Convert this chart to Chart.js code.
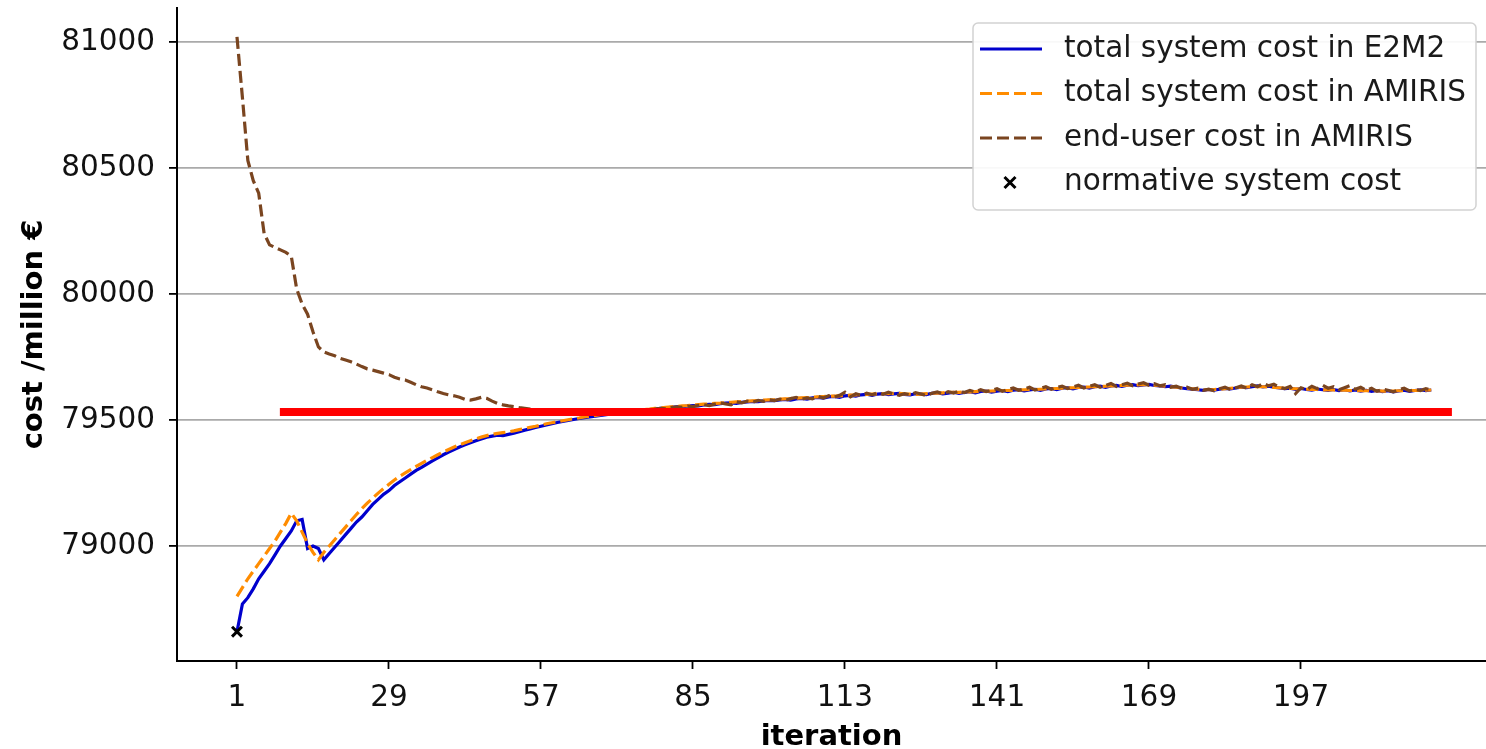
<!DOCTYPE html>
<html>
<head>
<meta charset="utf-8">
<script src="https://cdn.jsdelivr.net/npm/chart.js@4.4.0/dist/chart.umd.min.js"></script>
<style>
  html, body { margin: 0; padding: 0; background: #fff; overflow: hidden; }
  #wrap { width: 1486px; height: 749px; position: relative; }
  #costChart { display: block; }
</style>
</head>
<body>
<div id="wrap"><canvas id="costChart" width="1486" height="749"></canvas></div>
<script>
// values (million €)
const e2m2Cost = [
  78660, 78770, 78795, 78830, 78870, 78900, 78930, 78965, 79000, 79030,
  79060, 79100, 79105, 78990, 79000, 78990, 78945, 78970, 78995, 79020,
  79045, 79070, 79095, 79115, 79140, 79165, 79185, 79205, 79220, 79240,
  79255, 79270, 79285, 79300, 79312, 79325, 79338, 79350, 79362, 79373,
  79383, 79393, 79402, 79410, 79418, 79425, 79432, 79436, 79440, 79438,
  79443, 79448, 79454, 79460, 79465, 79470, 79475, 79480, 79485, 79490,
  79494, 79498, 79502, 79506, 79509, 79512, 79515, 79518, 79521, 79524,
  79527, 79529, 79532, 79534, 79537, 79539, 79541, 79543, 79546, 79548,
  79550, 79552, 79553, 79555, 79557, 79556, 79560, 79562, 79561, 79565,
  79567, 79568, 79566, 79570, 79572, 79574, 79573, 79576, 79578, 79577,
  79580, 79582, 79579, 79584, 79586, 79583, 79588, 79590, 79587, 79592,
  79594, 79590, 79596, 79598, 79595, 79600, 79602, 79598, 79603, 79605,
  79601, 79604, 79606, 79602, 79600, 79604, 79603, 79601, 79606, 79608,
  79604, 79607, 79610, 79606, 79609, 79612, 79608, 79613, 79615, 79611,
  79614, 79617, 79613, 79618, 79620, 79616, 79619, 79622, 79618, 79623,
  79625, 79621, 79626, 79628, 79624, 79629, 79631, 79627, 79632, 79634,
  79630, 79635, 79637, 79633, 79638, 79640, 79636, 79639, 79641, 79637,
  79635, 79632, 79634, 79630, 79627, 79624, 79622, 79620, 79618, 79621,
  79619, 79622, 79625, 79623, 79627, 79630, 79628, 79632, 79635, 79631,
  79634, 79630, 79627, 79624, 79626, 79622, 79625, 79621, 79619, 79623,
  79620, 79618, 79621, 79617, 79620, 79616, 79619, 79615, 79618, 79614,
  79617, 79613, 79616, 79612, 79615, 79618, 79614, 79617, 79620, 79617, 79619
];

const amirisCost = [
  78800, 78835, 78870, 78900, 78930, 78960, 78990, 79020, 79055, 79090,
  79130, 79100, 79055, 79010, 78975, 78945, 78975, 79000, 79025, 79050,
  79075, 79100, 79125, 79148, 79170, 79190, 79210, 79228, 79245, 79262,
  79277, 79290, 79303, 79316, 79328, 79340, 79351, 79362, 79373, 79383,
  79393, 79402, 79410, 79418, 79425, 79432, 79438, 79443, 79447, 79450,
  79453, 79457, 79462, 79466, 79471, 79475, 79480, 79485, 79489, 79493,
  79497, 79501, 79505, 79508, 79512, 79515, 79518, 79521, 79524, 79527,
  79529, 79532, 79534, 79537, 79539, 79541, 79543, 79546, 79548, 79550,
  79552, 79554, 79556, 79557, 79559, 79561, 79563, 79564, 79566, 79567,
  79569, 79570, 79572, 79573, 79575, 79576, 79577, 79579, 79580, 79581,
  79583, 79584, 79585, 79587, 79588, 79589, 79590, 79592, 79593, 79594,
  79595, 79596, 79597, 79599, 79600, 79601, 79602, 79603, 79604, 79605,
  79605, 79606, 79606, 79604, 79603, 79602, 79603, 79605, 79606, 79607,
  79608, 79609, 79610, 79610, 79611, 79612, 79613, 79614, 79614, 79615,
  79616, 79617, 79617, 79618, 79619, 79620, 79621, 79621, 79622, 79623,
  79624, 79625, 79626, 79627, 79628, 79629, 79630, 79631, 79632, 79633,
  79634, 79635, 79636, 79637, 79638, 79639, 79639, 79640, 79640, 79638,
  79636, 79634, 79632, 79630, 79628, 79626, 79624, 79622, 79621, 79620,
  79621, 79622, 79624, 79626, 79628, 79630, 79631, 79632, 79633, 79632,
  79631, 79629, 79628, 79626, 79625, 79624, 79623, 79622, 79621, 79621,
  79620, 79619, 79619, 79618, 79618, 79617, 79617, 79616, 79616, 79616,
  79616, 79615, 79615, 79615, 79616, 79616, 79617, 79617, 79618, 79618, 79619
];

const endUserCost = [
  81020, 80780, 80530, 80450, 80400, 80240, 80195, 80185, 80175, 80165,
  80150, 80020, 79960, 79920, 79850, 79790, 79770, 79762, 79755, 79745,
  79738, 79731, 79722, 79712, 79703, 79698, 79692, 79686, 79680, 79670,
  79663, 79659, 79650, 79640, 79632, 79627, 79620, 79612, 79605, 79600,
  79596, 79590, 79582, 79579, 79584, 79590, 79586, 79575, 79566, 79560,
  79556, 79553, 79549, 79546, 79543, 79540, 79537, 79534, 79532, 79530,
  79528, 79526, 79525, 79524, 79523, 79523, 79524, 79525, 79527, 79529,
  79531, 79533, 79535, 79536, 79538, 79540, 79538, 79543, 79546, 79544,
  79549, 79552, 79550, 79555, 79553, 79558, 79561, 79557, 79563, 79568,
  79564, 79560, 79572, 79568, 79575, 79571, 79578, 79574, 79580, 79577,
  79583, 79578, 79585, 79590, 79582, 79588, 79584, 79594, 79587, 79596,
  79590, 79598, 79610, 79592, 79604, 79598, 79606, 79600, 79608, 79602,
  79610, 79603, 79598, 79605, 79600, 79608, 79603, 79597, 79606, 79611,
  79604, 79612, 79607, 79615, 79609, 79617, 79611, 79620, 79613, 79618,
  79624, 79614, 79621, 79627, 79618, 79623, 79630, 79619, 79626, 79632,
  79622, 79629, 79634, 79625, 79631, 79638, 79627, 79634, 79640, 79630,
  79637, 79645, 79633, 79640, 79646, 79636, 79643, 79648, 79638, 79644,
  79636, 79640, 79630, 79634, 79626, 79630, 79622, 79626, 79618, 79622,
  79616, 79624, 79630, 79621, 79628, 79635, 79626, 79640, 79632, 79645,
  79636, 79642, 79630, 79625, 79633, 79605, 79628, 79620, 79634, 79624,
  79638, 79626, 79632, 79620, 79628, 79636, 79622, 79630, 79618, 79626,
  79614, 79622, 79618, 79612, 79620, 79626, 79615, 79622, 79617, 79624, 79620
];

const normativeIter = [1];
const normativeCost = [78660];

// red reference line drawn over the figure
const redLineIter = [8.9, 224.8];
const redLineCost = [79532, 79532];

const xTickLabels = [1, 29, 57, 85, 113, 141, 169, 197];
const yTickLabels = [79000, 79500, 80000, 80500, 81000];

const iterations = e2m2Cost.map((_, i) => i + 1);

const FONT = "'DejaVu Sans', sans-serif";

const legendBox = {
  id: 'legendBox',
  afterDraw(chart) {
    const { ctx, chartArea } = chart;
    const boxW = 503, boxH = 187;
    const x0 = chart.width - boxW - 10;
    const y0 = chartArea.top + 15;
    ctx.save();
    ctx.fillStyle = 'rgba(255,255,255,0.92)';
    ctx.strokeStyle = '#d2d2d2';
    ctx.lineWidth = 1.5;
    ctx.beginPath();
    ctx.roundRect(x0, y0, boxW, boxH, 5);
    ctx.fill();
    ctx.stroke();

    const entries = chart.data.datasets.filter(d => d.inLegend);
    ctx.font = '29.5px ' + FONT;
    ctx.textBaseline = 'middle';
    ctx.textAlign = 'left';
    entries.forEach((d, i) => {
      const cy = y0 + 26 + i * 44.5;
      if (d.showLine === false) {
        const mx = x0 + 37, s = 5.5;
        ctx.strokeStyle = '#000';
        ctx.lineWidth = 3;
        ctx.setLineDash([]);
        ctx.beginPath();
        ctx.moveTo(mx - s, cy - s); ctx.lineTo(mx + s, cy + s);
        ctx.moveTo(mx - s, cy + s); ctx.lineTo(mx + s, cy - s);
        ctx.stroke();
      } else {
        ctx.strokeStyle = d.borderColor;
        ctx.lineWidth = d.borderWidth;
        ctx.setLineDash(d.borderDash || []);
        ctx.beginPath();
        ctx.moveTo(x0 + 7, cy);
        ctx.lineTo(x0 + 69, cy);
        ctx.stroke();
      }
      ctx.setLineDash([]);
      ctx.fillStyle = '#1a1a1a';
      ctx.fillText(d.label, x0 + 91, cy);
    });
    ctx.restore();
  }
};

new Chart(document.getElementById('costChart'), {
  type: 'line',
  data: {
    labels: iterations,
    datasets: [
      {
        label: 'total system cost in E2M2',
        data: e2m2Cost,
        borderColor: '#0000cd',
        borderWidth: 3.2,
        pointRadius: 0,
        tension: 0,
        order: 4,
        inLegend: true
      },
      {
        label: 'total system cost in AMIRIS',
        data: amirisCost,
        borderColor: '#ff8c00',
        borderWidth: 3.2,
        borderDash: [12, 5],
        pointRadius: 0,
        tension: 0,
        order: 3,
        inLegend: true
      },
      {
        label: 'end-user cost in AMIRIS',
        data: endUserCost,
        borderColor: '#7a4520',
        borderWidth: 3.2,
        borderDash: [12, 5],
        pointRadius: 0,
        tension: 0,
        order: 2,
        inLegend: true
      },
      {
        label: 'normative system cost',
        data: normativeIter.map((x, i) => ({ x: x, y: normativeCost[i] })),
        showLine: false,
        pointStyle: 'crossRot',
        pointRadius: 7,
        pointBorderWidth: 3,
        pointBorderColor: '#000',
        borderColor: '#000',
        order: 1,
        inLegend: true
      },
      {
        label: 'reference',
        data: redLineIter.map((x, i) => ({ x: x, y: redLineCost[i] })),
        borderColor: '#ff0000',
        borderWidth: 8,
        borderCapStyle: 'butt',
        pointRadius: 0,
        order: 0,
        inLegend: false
      }
    ]
  },
  options: {
    responsive: false,
    maintainAspectRatio: false,
    animation: false,
    devicePixelRatio: 1,
    layout: { autoPadding: false, padding: { top: 8, right: 0, left: 0, bottom: 0 } },
    plugins: {
      legend: { display: false },
      tooltip: { enabled: false }
    },
    scales: {
      x: {
        type: 'linear',
        min: -10.05,
        max: 231.08,
        afterBuildTicks: scale => { scale.ticks = xTickLabels.map(v => ({ value: v })); },
        afterFit: scale => {
          scale.height = 88;
          scale.paddingLeft = 0;
          scale.paddingRight = 0;
        },
        grid: {
          drawOnChartArea: false,
          drawTicks: true,
          tickLength: 8,
          tickColor: '#000',
          tickWidth: 1.8
        },
        border: { display: true, color: '#000', width: 2 },
        ticks: {
          color: '#111',
          font: { family: FONT, size: 29.5 },
          padding: 12,
          maxRotation: 0
        },
        title: {
          display: true,
          text: 'iteration',
          color: '#000',
          font: { family: FONT, size: 29, weight: 'bold', lineHeight: 0.8 },
          padding: { top: 0, bottom: 0 }
        }
      },
      y: {
        min: 78543.7,
        max: 81134.9,
        afterBuildTicks: scale => { scale.ticks = yTickLabels.map(v => ({ value: v })); },
        afterFit: scale => {
          scale.width = 177;
          scale.paddingTop = 0;
          scale.paddingBottom = 0;
        },
        grid: {
          color: '#aaaaaa',
          lineWidth: 1.8,
          drawTicks: true,
          tickLength: 8,
          tickColor: '#000',
          tickWidth: 1.8
        },
        border: { display: true, color: '#000', width: 2 },
        ticks: {
          color: '#111',
          font: { family: FONT, size: 29.5 },
          padding: 14,
          callback: v => String(v)
        },
        title: {
          display: true,
          text: 'cost /million €',
          color: '#000',
          font: { family: FONT, size: 29, weight: 'bold' },
          padding: { top: 17, bottom: 0 }
        }
      }
    }
  },
  plugins: [legendBox]
});
</script>
</body>
</html>
